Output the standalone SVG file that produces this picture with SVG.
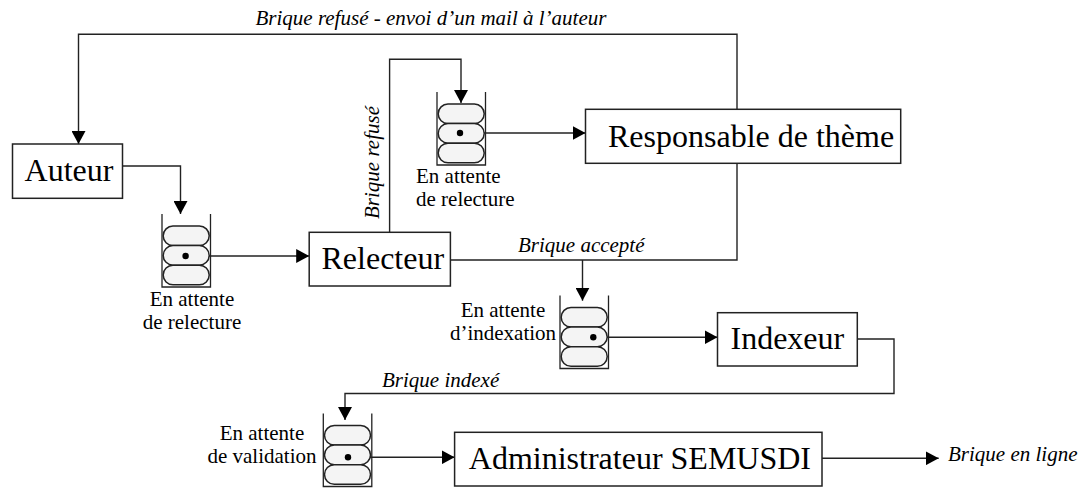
<svg xmlns="http://www.w3.org/2000/svg" xmlns:xlink="http://www.w3.org/1999/xlink" width="1080" height="488" viewBox="0 0 1080 488">
<style>
.box{fill:#fff;stroke:#222;stroke-width:1.5}
.name{font-family:"Liberation Serif","Times New Roman",serif;font-size:32px;fill:#000}
.lbl{font-family:"Liberation Serif","Times New Roman",serif;font-size:21px;fill:#000}
.it{font-family:"Liberation Serif","Times New Roman",serif;font-size:21px;font-style:italic;fill:#000}
.wire{fill:none;stroke:#222;stroke-width:1.4}
.wall{fill:none;stroke:#222;stroke-width:1.3}
.pill{fill:#f4f4f4;stroke:#222;stroke-width:1.5}
.dot{fill:#000}
</style>
<defs>
<marker id="arr" markerUnits="userSpaceOnUse" markerWidth="14" markerHeight="14" refX="13" refY="7" orient="auto">
<path d="M0,0 L13,7 L0,14 z" fill="#000"/>
</marker>
<g id="queue">
<path class="wall" d="M0,0 V73 H48.5 V0"/>
<rect class="pill" x="1.2" y="12" width="46" height="19.6" rx="9.8"/>
<rect class="pill" x="1.2" y="31.6" width="46" height="19.6" rx="9.8"/>
<rect class="pill" x="1.2" y="51.2" width="46" height="19.6" rx="9.8"/>
</g>
</defs>
<rect width="1080" height="488" fill="#fff"/>

<g id="connectors">
<path class="wire" d="M737,109.3 V34.3 H78.5 V144" marker-end="url(#arr)"/>
<path class="wire" d="M122.5,166 H180.5 V214" marker-end="url(#arr)"/>
<path class="wire" d="M185.6,256 H309.2" marker-end="url(#arr)"/>
<path class="wire" d="M389.6,232.3 V59.3 H461 V103" marker-end="url(#arr)"/>
<path class="wire" d="M460,133 H585.5" marker-end="url(#arr)"/>
<path class="wire" d="M450.4,260 H737 V163.3"/>
<path class="wire" d="M582.5,260 V300.7" marker-end="url(#arr)"/>
<path class="wire" d="M593.3,337.3 H717.5" marker-end="url(#arr)"/>
<path class="wire" d="M857.3,339 H894 V393.5 H345 V420" marker-end="url(#arr)"/>
<path class="wire" d="M348,457.3 H454.6" marker-end="url(#arr)"/>
<path class="wire" d="M822,458.3 H938.7" marker-end="url(#arr)"/>
<text class="it" x="255.5" y="25">Brique refusé - envoi d’un mail à l’auteur</text>
<text class="it" transform="translate(379,162.5) rotate(-90)" text-anchor="middle">Brique refusé</text>
<text class="it" x="518" y="251.5">Brique accepté</text>
<text class="it" x="382" y="386.5">Brique indexé</text>
<text class="it" x="948" y="461">Brique en ligne</text>
</g>

<g id="auteur">
<rect class="box" x="12.5" y="144" width="110" height="54.3"/>
<text class="name" x="69" y="181" text-anchor="middle">Auteur</text>
</g>
<g id="responsable">
<rect class="box" x="585.5" y="109.3" width="315.2" height="54"/>
<text class="name" x="608" y="146.5">Responsable de thème</text>
</g>
<g id="relecteur">
<rect class="box" x="309.2" y="232.3" width="141.2" height="53.7"/>
<text class="name" x="321.5" y="269">Relecteur</text>
</g>
<g id="indexeur">
<rect class="box" x="717.5" y="312.7" width="139.8" height="53.3"/>
<text class="name" x="730.5" y="349">Indexeur</text>
</g>
<g id="administrateur">
<rect class="box" x="454.6" y="432.3" width="367.4" height="53.7"/>
<text class="name" x="468.8" y="469">Administrateur SEMUSDI</text>
</g>

<g id="queue1">
<use xlink:href="#queue" href="#queue" x="162" y="214"/>
<circle class="dot" cx="185.6" cy="256" r="3.2"/>
<text class="lbl" x="192" y="306" text-anchor="middle">En attente</text>
<text class="lbl" x="192" y="329" text-anchor="middle">de relecture</text>
</g>
<g id="queue2">
<use xlink:href="#queue" href="#queue" x="437" y="92"/>
<circle class="dot" cx="460" cy="133" r="3.2"/>
<text class="lbl" x="416" y="183">En attente</text>
<text class="lbl" x="416" y="206">de relecture</text>
</g>
<g id="queue3">
<use xlink:href="#queue" href="#queue" x="560" y="295.5"/>
<circle class="dot" cx="593.3" cy="337.3" r="3.2"/>
<text class="lbl" x="503" y="317" text-anchor="middle">En attente</text>
<text class="lbl" x="503" y="340" text-anchor="middle">d’indexation</text>
</g>
<g id="queue4">
<use xlink:href="#queue" href="#queue" x="323.3" y="413.5"/>
<circle class="dot" cx="348" cy="457.3" r="3.2"/>
<text class="lbl" x="262" y="440" text-anchor="middle">En attente</text>
<text class="lbl" x="262" y="463" text-anchor="middle">de validation</text>
</g>
</svg>
